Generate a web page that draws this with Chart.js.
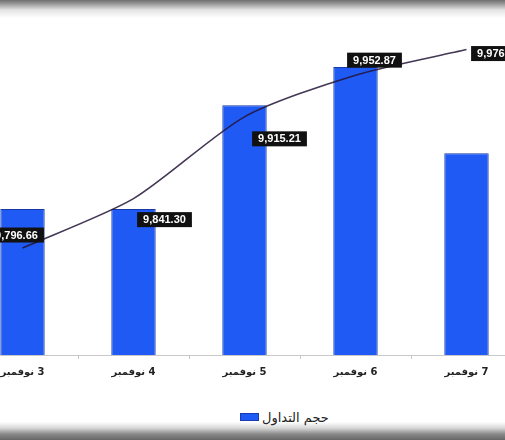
<!DOCTYPE html>
<html>
<head>
<meta charset="utf-8">
<script src="https://cdn.jsdelivr.net/npm/chart.js@4/dist/chart.umd.min.js"></script>
<style>
  html, body { margin: 0; padding: 0; background: #fff; }
  body { width: 505px; height: 440px; position: relative; overflow: hidden; font-family: "DejaVu Sans", "Liberation Sans", sans-serif; }
  #wrap { position: absolute; left: -33px; top: 0; width: 555px; height: 385px; }
  #wrap canvas { direction: rtl; }
  .band-top { position: absolute; left: 0; top: 0; width: 505px; height: 20px;
    background: linear-gradient(to bottom, #6e6e6e 0px, #9a9a9a 4px, #e4e4e4 10px, #fff 18px); }
  .band-bottom { position: absolute; left: 0; bottom: 0; width: 505px; height: 18px;
    background: linear-gradient(to bottom, #fff 0px, #d8d8d8 6px, #8a8a8a 12px, #666 18px); }
  #legend { position: absolute; top: 409px; left: 240px; height: 16px; display: flex; align-items: center;
    font-size: 13px; color: #222; }
  #legend .box { width: 17px; height: 6px; background: #1f5af5; border: 1px solid #1a3ab0; margin-right: 3px; }
</style>
</head>
<body>
<div id="wrap"><canvas id="c"></canvas></div>
<div class="band-top"></div>
<div class="band-bottom"></div>
<div id="legend"><span class="box"></span><span>حجم التداول</span></div>
<script>
// القيم مقروءة من الصورة
const categories = ['3 نوفمبر', '4 نوفمبر', '5 نوفمبر', '6 نوفمبر', '7 نوفمبر'];
const volume = [176, 176, 301, 347, 243];          // حجم التداول (تقدير، بدون محور ظاهر)
const indexValues = [9796.66, 9841.30, 9915.21, 9952.87, 9976.00];
const indexLabels = ['9,796.66', '9,841.30', '9,915.21', '9,952.87', '9,976.00'];
// إزاحة صناديق القيم عن النقاط (بكسل)
const labelOffsets = [[-6, -13], [31, 21], [35, 22], [19, -15], [32, 4]];

const valueBoxes = {
  id: 'valueBoxes',
  afterDatasetsDraw(chart) {
    const ctx = chart.ctx;
    const meta = chart.getDatasetMeta(1);
    ctx.save();
    ctx.direction = 'ltr';
    ctx.font = 'bold 11px "Liberation Sans", Arial, sans-serif';
    ctx.textAlign = 'center';
    ctx.textBaseline = 'middle';
    meta.data.forEach((pt, i) => {
      const x = pt.x + labelOffsets[i][0];
      const y = pt.y + labelOffsets[i][1];
      const w = ctx.measureText(indexLabels[i]).width + 12;
      ctx.fillStyle = '#111';
      ctx.fillRect(x - w / 2, y - 7.5, w, 15);
      ctx.fillStyle = '#fff';
      ctx.fillText(indexLabels[i], x, y + 0.5);
    });
    ctx.restore();
  },
};

new Chart(document.getElementById('c'), {
  data: {
    labels: categories,
    datasets: [
      {
        type: 'bar',
        label: 'حجم التداول',
        data: volume,
        backgroundColor: '#1f5af5',
        borderColor: '#1838a8',
        borderWidth: 1,
        categoryPercentage: 1,
        barPercentage: 0.4,
        yAxisID: 'y',
        order: 2,
      },
      {
        type: 'line',
        label: 'المؤشر',
        data: indexValues,
        borderColor: 'rgba(35, 20, 55, 0.85)',
        borderWidth: 1.6,
        tension: 0.25,
        pointRadius: 0,
        fill: false,
        yAxisID: 'y1',
        order: 1,
      },
    ],
  },
  plugins: [valueBoxes],
  options: {
    responsive: true,
    maintainAspectRatio: false,
    animation: false,
    layout: { padding: { top: 23, left: 0, right: 0, bottom: 0 } },
    plugins: { legend: { display: false }, tooltip: { enabled: false } },
    scales: {
      x: {
        offset: true,
        grid: { display: true, drawOnChartArea: false, drawTicks: true, tickLength: 4, color: '#c8c8c8', offset: true },
        border: { display: true, color: '#c8c8c8' },
        ticks: { color: '#222', padding: 7, font: { size: 10, weight: 'bold', family: '"DejaVu Sans", sans-serif' } },
      },
      y: { display: false, min: 0, max: 400 },
      y1: { display: false, min: 9700, max: 10000 },
    },
  },
});
</script>
</body>
</html>
